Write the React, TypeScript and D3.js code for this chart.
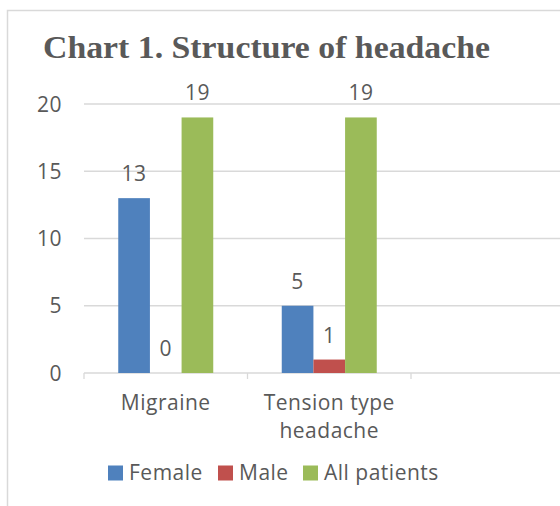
import React from 'react';
import * as d3 from 'd3';

const categories = ['Migraine', 'Tension type headache', ''];
const categoryLines = [['Migraine'], ['Tension type', 'headache'], []];
const seriesNames = ['Female', 'Male', 'All patients'];
const female = [13, 5];
const male = [0, 1];
const allPatients = [19, 19];
const yTicks = [0, 5, 10, 15, 20];

const colors = ['#4F81BD', '#C0504D', '#9BBB59'];
const textColor = '#595959';
const gridColor = '#D9D9D9';
const font = "'Open Sans', 'Noto Sans', sans-serif";
const fs = 21;
const ls = 0.5;

const W = 560;
const H = 506;

const App: React.FC = () => {
    const plotLeft = 84;
    const catStep = 163.5;
    const x = d3.scaleBand<string>()
        .domain(categories)
        .range([plotLeft, plotLeft + catStep * categories.length])
        .paddingInner(0)
        .paddingOuter(0);

    const y = d3.scaleLinear().domain([0, 20]).range([373, 104]);

    const groupWidth = 95;
    const inner = d3.scaleBand<string>()
        .domain(seriesNames)
        .range([-groupWidth / 2, groupWidth / 2])
        .padding(0);

    const seriesValues = [female, male, allPatients];

    return (
        <svg width={W} height={H} style={{ position: 'absolute', left: 0, top: 0, background: '#fff' }}>
            {/* outer chart frame */}
            <path d={`M7.5,${H} V10.5 H${W}`} fill="none" stroke={gridColor} strokeWidth={1.5} />

            <text x={43} y={58} fontFamily="'Liberation Serif', 'Times New Roman', serif" fontWeight="bold"
                fontSize={32} fill={textColor} textLength={447} lengthAdjust="spacingAndGlyphs">Chart 1. Structure of headache</text>

            {/* gridlines */}
            {yTicks.filter(t => t > 0).map(t => (
                <line key={t} x1={plotLeft} x2={W} y1={y(t)} y2={y(t)} stroke={gridColor} strokeWidth={1.3} />
            ))}
            {/* x axis */}
            <line x1={plotLeft} x2={W} y1={y(0)} y2={y(0)} stroke={gridColor} strokeWidth={1.3} />
            {categories.map((c, i) => (
                <line key={'t' + i} x1={x(c)!} x2={x(c)!} y1={y(0)} y2={y(0) + 6} stroke={gridColor} strokeWidth={1.3} />
            ))}

            {/* y tick labels */}
            {yTicks.map(t => (
                <text key={t} x={62} y={y(t) + 7.5} textAnchor="end" fontFamily={font} fontSize={fs}
                    letterSpacing={ls} fill={textColor}>{t}</text>
            ))}

            {/* bars */}
            {seriesValues.map((vals, s) => vals.map((v, i) => {
                const cx = x(categories[i])! + x.bandwidth() / 2;
                const bx = cx + inner(seriesNames[s])!;
                return (
                    <g key={s + '-' + i}>
                        <rect x={bx} y={y(v)} width={inner.bandwidth()} height={y(0) - y(v)} fill={colors[s]} />
                        <text x={bx + inner.bandwidth() / 2} y={y(v) - 17} textAnchor="middle"
                            fontFamily={font} fontSize={fs} letterSpacing={ls} fill={textColor}>{v}</text>
                    </g>
                );
            }))}

            {/* category labels */}
            {categories.map((c, i) => categoryLines[i].map((line, j) => (
                <text key={c + j} x={x(c)! + x.bandwidth() / 2} y={410 + j * 28} textAnchor="middle"
                    fontFamily={font} fontSize={fs} letterSpacing={ls} fill={textColor}>{line}</text>
            )))}

            {/* legend */}
            {seriesNames.map((name, s) => {
                const lx = [108, 218, 303][s];
                return (
                    <g key={name}>
                        <rect x={lx} y={465.5} width={15} height={15} fill={colors[s]} />
                        <text x={lx + 21} y={480} fontFamily={font} fontSize={fs} letterSpacing={ls}
                            fill={textColor}>{name}</text>
                    </g>
                );
            })}
        </svg>
    );
};

export default App;
